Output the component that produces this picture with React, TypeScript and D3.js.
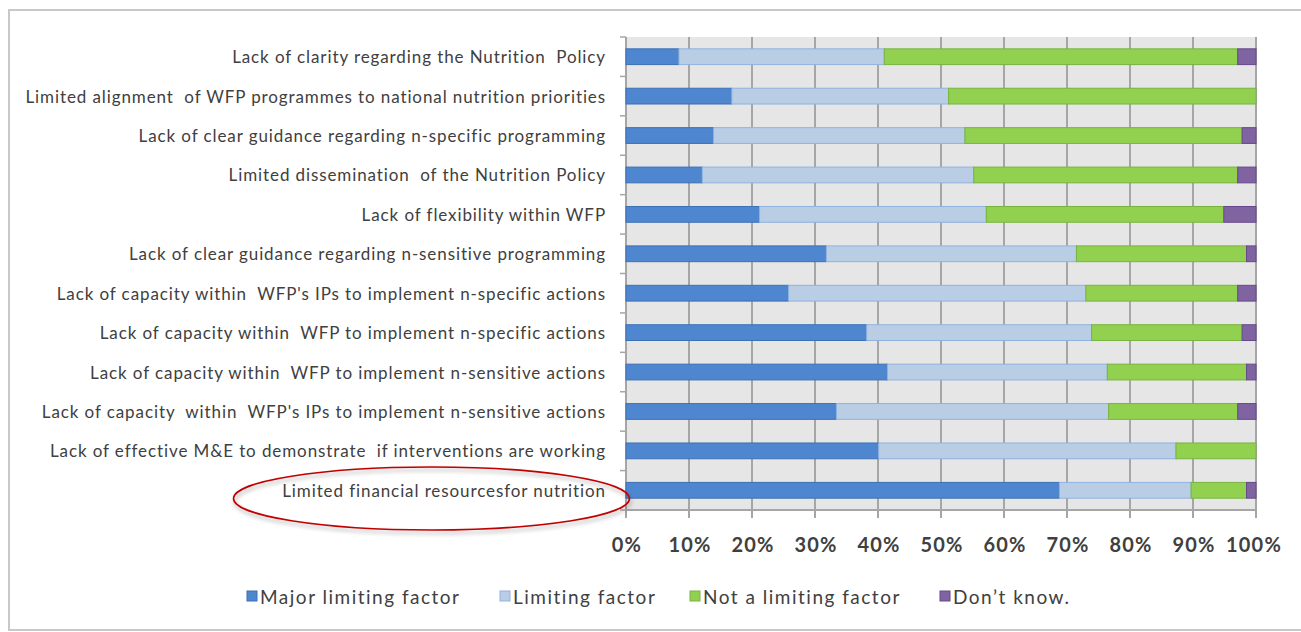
import React from "react";
import * as d3 from "d3";

const categories = [
  "Lack of clarity regarding the Nutrition  Policy",
  "Limited alignment  of WFP programmes to national nutrition priorities",
  "Lack of clear guidance regarding n-specific programming",
  "Limited dissemination  of the Nutrition Policy",
  "Lack of flexibility within WFP",
  "Lack of clear guidance regarding n-sensitive programming",
  "Lack of capacity within  WFP's IPs to implement n-specific actions",
  "Lack of capacity within  WFP to implement n-specific actions",
  "Lack of capacity within  WFP to implement n-sensitive actions",
  "Lack of capacity  within  WFP's IPs to implement n-sensitive actions",
  "Lack of effective M&E to demonstrate  if interventions are working",
  "Limited financial resourcesfor nutrition",
];

const seriesNames = ["Major limiting factor", "Limiting factor", "Not a limiting factor", "Don\u2019t know."];
const major = [8.4, 16.8, 13.9, 12.1, 21.2, 31.8, 25.8, 38.2, 41.5, 33.4, 40.1, 68.8];
const limiting = [32.6, 34.4, 39.9, 43.1, 36.0, 39.7, 47.2, 35.7, 34.9, 43.2, 47.2, 20.9];
const notLimiting = [56.1, 48.8, 44.0, 41.9, 37.7, 27.0, 24.1, 23.9, 22.1, 20.5, 12.7, 8.8];
const dontKnow = [2.9, 0, 2.2, 2.9, 5.1, 1.5, 2.9, 2.2, 1.5, 2.9, 0, 1.5];
const xTicks = [0, 10, 20, 30, 40, 50, 60, 70, 80, 90, 100];

const fills = ["#4f86d0", "#b9cde5", "#92d050", "#8064a2"];
const strokes = ["#3d70b4", "#8fb2e0", "#78b43e", "#65498a"];

export default function App() {
  const W = 1301, H = 632;
  const left = 626, right = 1256, top = 37, bottom = 510;
  const x = d3.scaleLinear().domain([0, 100]).range([left, right]);
  const y = d3.scaleBand().domain(categories).range([top, bottom]).paddingInner(0.6).paddingOuter(0.3);
  const outer = d3.scaleBand().domain(categories).range([top, bottom]);

  const rows = categories.map((c, i) => ({ c, v: [major[i], limiting[i], notLimiting[i], dontKnow[i]] }));
  const stack = d3.stack<any>().keys(["0", "1", "2", "3"]).value((d, k) => d.v[+k]);
  const stacked = stack(rows as any);

  const font = "Lato, 'Open Sans', sans-serif";
  const legendItems = [
    { x: 252, name: seriesNames[0] },
    { x: 505, name: seriesNames[1] },
    { x: 695, name: seriesNames[2] },
    { x: 945, name: seriesNames[3] },
  ];

  return (
    <svg width={W} height={H} style={{ position: "absolute", left: 0, top: 0 }}>
      <defs>
        <filter id="sh" x="-20%" y="-40%" width="140%" height="180%">
          <feGaussianBlur in="SourceAlpha" stdDeviation="2" />
          <feOffset dx="1" dy="3" result="b" />
          <feComponentTransfer><feFuncA type="linear" slope="0.35" /></feComponentTransfer>
          <feMerge><feMergeNode /><feMergeNode in="SourceGraphic" /></feMerge>
        </filter>
      </defs>
      <rect x={0} y={0} width={W} height={H} fill="#fff" />
      <rect x={9} y={10} width={W + 20} height={620} fill="#fff" stroke="#c8c8c8" strokeWidth={2} />
      <rect x={left} y={top} width={right - left} height={bottom - top} fill="#e6e6e6" />
      {xTicks.map((t) => (
        <line key={t} x1={x(t)} x2={x(t)} y1={top} y2={bottom + 8} stroke="#a6a6a6" strokeWidth={2} />
      ))}
      <line x1={left} x2={right} y1={bottom} y2={bottom} stroke="#a6a6a6" strokeWidth={2} />
      <line x1={left} x2={left} y1={top} y2={bottom} stroke="#a6a6a6" strokeWidth={2} />
      {categories.map((c) => (
        <line key={c} x1={left - 6} x2={left} y1={outer(c)!} y2={outer(c)!} stroke="#a6a6a6" strokeWidth={1.5} />
      ))}
      <line x1={left - 6} x2={left} y1={bottom} y2={bottom} stroke="#a6a6a6" strokeWidth={1.5} />
      {stacked.map((s, si) =>
        s.map((d: any, i) =>
          d[1] - d[0] > 0 ? (
            <rect
              key={si + "-" + i}
              x={x(d[0])}
              y={y(categories[i])!}
              width={x(d[1]) - x(d[0])}
              height={y.bandwidth()}
              fill={fills[si]}
              stroke={strokes[si]}
              strokeWidth={1}
            />
          ) : null
        )
      )}
      {categories.map((c) => (
        <text
          key={c}
          x={606}
          y={outer(c)! + outer.bandwidth() / 2}
          textAnchor="end"
          dominantBaseline="central"
          fontFamily={font}
          fontSize={17}
          letterSpacing={0.9}
          fill="#404040"
          style={{ whiteSpace: "pre" }}
        >
          {c}
        </text>
      ))}
      {xTicks.map((t) => (
        <text
          key={t}
          x={x(t) + (t === 100 ? -2 : 1)}
          y={544}
          textAnchor="middle"
          dominantBaseline="central"
          fontFamily={font}
          fontWeight="bold"
          fontSize={20}
          letterSpacing={1.2}
          fill="#404040"
        >
          {t + "%"}
        </text>
      ))}
      {legendItems.map((l, i) => (
        <g key={l.name}>
          <rect x={l.x - 5} y={591} width={10} height={10} fill={fills[i]} stroke={strokes[i]} />
          <text x={l.x + 8} y={596} dominantBaseline="central" fontFamily={font} fontSize={19} letterSpacing={1.5} fill="#404040">
            {l.name}
          </text>
        </g>
      ))}
      <ellipse cx={431.5} cy={498.5} rx={198} ry={31.5} fill="none" stroke="#c00000" strokeWidth={1.6} filter="url(#sh)" />
    </svg>
  );
}
